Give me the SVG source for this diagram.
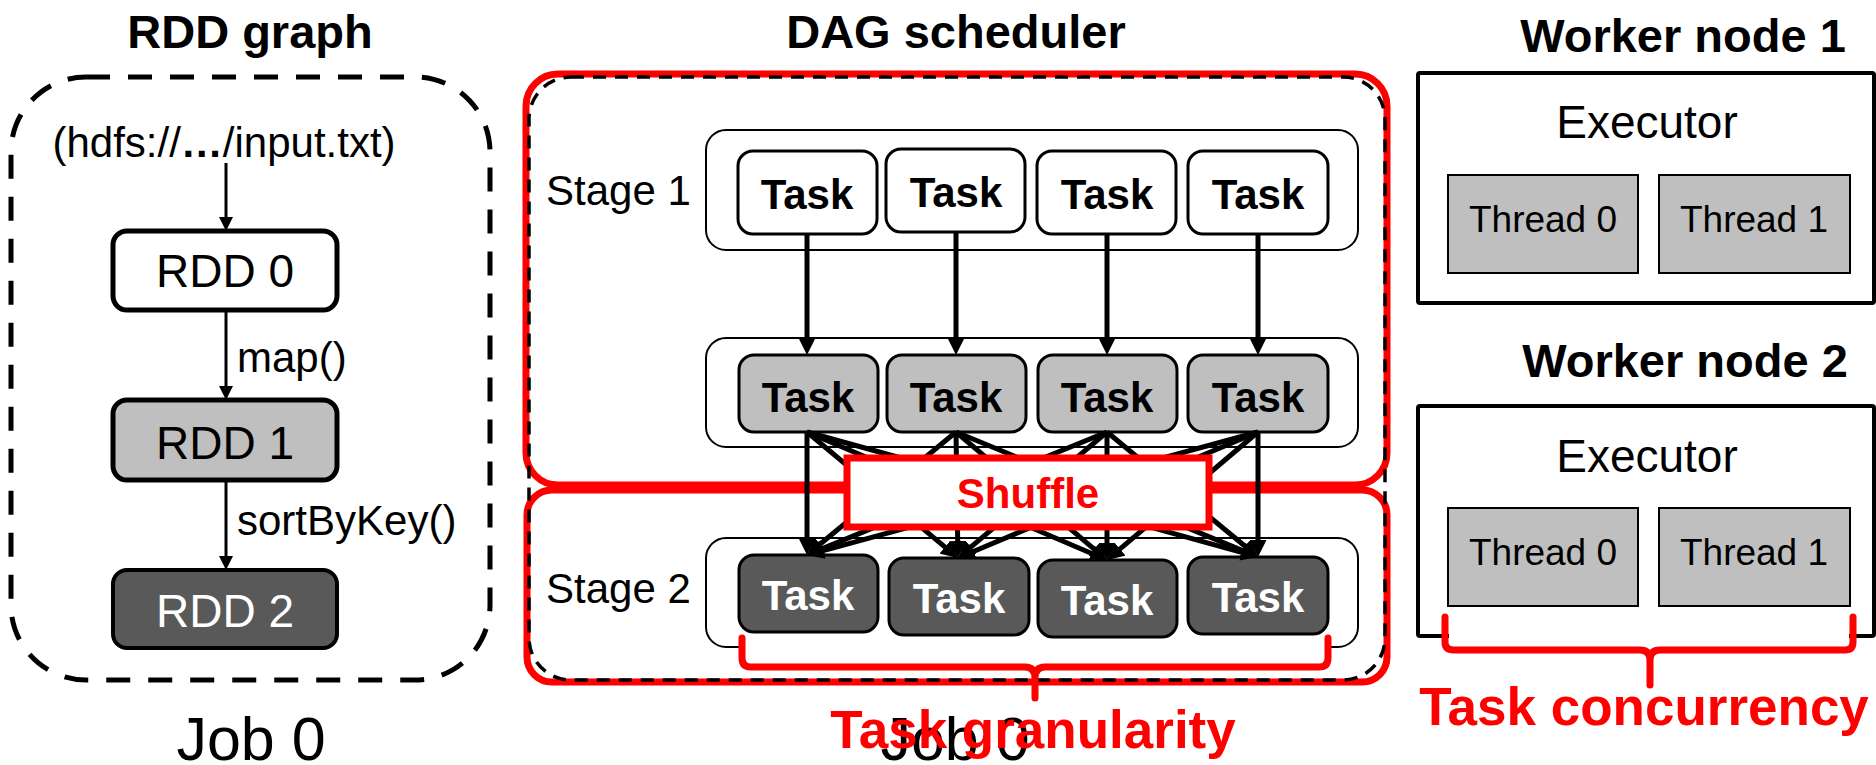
<svg xmlns="http://www.w3.org/2000/svg" width="1876" height="765" viewBox="0 0 1876 765">
  <defs>
    <style>
      text { font-family: "Liberation Sans", Arial, Helvetica, sans-serif; fill: #000; }
      .title { font-size: 47px; font-weight: bold; text-anchor: middle; }
      .lbl { font-size: 42px; }
      .rddtxt { font-size: 46px; text-anchor: middle; }
      .job { font-size: 61px; text-anchor: middle; }
      .task { font-size: 42px; font-weight: bold; text-anchor: middle; }
      .red { fill: #ff0000; font-weight: bold; text-anchor: middle; }
      .stage { fill: #fff; stroke: #000; stroke-width: 2; }
      .t-white { fill: #fff; stroke: #000; stroke-width: 3; }
      .t-gray { fill: #bfbfbf; stroke: #000; stroke-width: 3; }
      .t-dark { fill: #595959; stroke: #000; stroke-width: 3; }
      .worker { fill: #fff; stroke: #000; stroke-width: 4; }
      .thread { fill: #bfbfbf; stroke: #000; stroke-width: 2; }
      .thtxt { font-size: 37px; text-anchor: middle; }
      .exec { font-size: 46px; text-anchor: middle; }
      .edge-s { stroke: #000; stroke-width: 3; fill: none; marker-end: url(#ah-s); }
      .edge-l { stroke: #000; stroke-width: 5; fill: none; marker-end: url(#ah-l); }
      .brace { stroke: #ff0000; stroke-width: 7; fill: none; stroke-linecap: round; stroke-linejoin: round; }
    </style>
    <marker id="ah-s" viewBox="0 0 14 14" refX="1" refY="7" markerWidth="14" markerHeight="14" markerUnits="userSpaceOnUse" orient="auto">
      <path d="M0,0 L14,7 L0,14 z" fill="#000"/>
    </marker>
    <marker id="ah-l" viewBox="0 0 17 17" refX="1" refY="8.5" markerWidth="17" markerHeight="17" markerUnits="userSpaceOnUse" orient="auto">
      <path d="M0,0 L17,8.5 L0,17 z" fill="#000"/>
    </marker>
  </defs>

  <rect width="1876" height="765" fill="#fff"/>

  <!-- ===== RDD graph ===== -->
  <g id="rdd-graph">
    <text class="title" x="250" y="48">RDD graph</text>
    <rect x="11" y="77" width="479" height="603" rx="75" fill="none" stroke="#000" stroke-width="5" stroke-dasharray="24 18"/>
    <text class="lbl" x="224" y="157" text-anchor="middle">(hdfs://<tspan font-weight="bold">…</tspan>/input.txt)</text>
    <text class="job" x="251" y="760">Job 0</text>
  </g>

  <g id="rdd0">
    <rect x="113" y="231" width="224" height="79" rx="14" fill="#fff" stroke="#000" stroke-width="5"/>
    <text class="rddtxt" x="225" y="287">RDD 0</text>
  </g>
  <g id="rdd1">
    <rect x="113" y="400" width="224" height="80" rx="14" fill="#bfbfbf" stroke="#000" stroke-width="5"/>
    <text class="rddtxt" x="225" y="459">RDD 1</text>
  </g>
  <g id="rdd2">
    <rect x="113" y="570" width="224" height="78" rx="14" fill="#595959" stroke="#000" stroke-width="4"/>
    <text class="rddtxt" x="225" y="627" style="fill:#fff">RDD 2</text>
  </g>

  <g id="rdd-edges">
    <path class="edge-s" d="M226,163 V218"/>
    <path class="edge-s" d="M226,310 V387"/>
    <text class="lbl" x="237" y="372">map()</text>
    <path class="edge-s" d="M226,480 V557"/>
    <text class="lbl" x="237" y="535">sortByKey()</text>
  </g>

  <!-- ===== DAG scheduler ===== -->
  <g id="dag-scheduler">
    <text class="title" x="956" y="48">DAG scheduler</text>
    <!-- stage regions (red) and job outline (dashed) -->
    <rect x="526" y="74" width="861" height="411" rx="32" fill="none" stroke="#ff0000" stroke-width="7"/>
    <rect x="527" y="490" width="860" height="192" rx="25" fill="none" stroke="#ff0000" stroke-width="7"/>
    <rect x="529" y="77" width="856" height="603" rx="42" fill="none" stroke="#000" stroke-width="3.5" stroke-dasharray="13 9"/>
    <text class="lbl" x="546" y="205">Stage 1</text>
    <text class="lbl" x="546" y="603">Stage 2</text>
  </g>

  <g id="stage1-map">
    <rect class="stage" x="706" y="130" width="652" height="120" rx="20"/>
  </g>
  <g id="stage1-write">
    <rect class="stage" x="706" y="338" width="652" height="109" rx="20"/>
  </g>
  <g id="stage2-read">
    <rect class="stage" x="706" y="538" width="652" height="109" rx="20"/>
  </g>

  <g id="s1-task-a"><rect class="t-white" x="738" y="151" width="139" height="83" rx="15"/><text class="task" x="807" y="209">Task</text></g>
  <g id="s1-task-b"><rect class="t-white" x="886" y="149" width="139" height="83" rx="15"/><text class="task" x="956" y="207">Task</text></g>
  <g id="s1-task-c"><rect class="t-white" x="1037" y="151" width="139" height="83" rx="15"/><text class="task" x="1107" y="209">Task</text></g>
  <g id="s1-task-d"><rect class="t-white" x="1188" y="151" width="140" height="83" rx="15"/><text class="task" x="1258" y="209">Task</text></g>

  <g id="s1-out-a"><rect class="t-gray" x="739" y="355" width="139" height="77" rx="15"/><text class="task" x="808" y="412">Task</text></g>
  <g id="s1-out-b"><rect class="t-gray" x="887" y="355" width="139" height="77" rx="15"/><text class="task" x="956" y="412">Task</text></g>
  <g id="s1-out-c"><rect class="t-gray" x="1038" y="355" width="139" height="77" rx="15"/><text class="task" x="1107" y="412">Task</text></g>
  <g id="s1-out-d"><rect class="t-gray" x="1188" y="355" width="140" height="77" rx="15"/><text class="task" x="1258" y="412">Task</text></g>

  <g id="s2-task-a"><rect class="t-dark" x="739" y="555" width="139" height="77" rx="15"/><text class="task" x="808" y="610" style="fill:#fff">Task</text></g>
  <g id="s2-task-b"><rect class="t-dark" x="889" y="558" width="140" height="77" rx="15"/><text class="task" x="959" y="613" style="fill:#fff">Task</text></g>
  <g id="s2-task-c"><rect class="t-dark" x="1038" y="560" width="139" height="77" rx="15"/><text class="task" x="1107" y="615" style="fill:#fff">Task</text></g>
  <g id="s2-task-d"><rect class="t-dark" x="1188" y="557" width="140" height="77" rx="15"/><text class="task" x="1258" y="612" style="fill:#fff">Task</text></g>

  <g id="dag-edges">
    <!-- narrow dependencies inside stage 1 -->
    <path class="edge-l" d="M807,234 V339"/>
    <path class="edge-l" d="M956,232 V339"/>
    <path class="edge-l" d="M1107,234 V339"/>
    <path class="edge-l" d="M1258,234 V339"/>
    <!-- all-to-all shuffle dependencies -->
    <path class="edge-l" d="M807,432 L807,539"/>
    <path class="edge-l" d="M807,432 L945.7,547.7"/>
    <path class="edge-l" d="M807,432 L1092.3,553.7"/>
    <path class="edge-l" d="M807,432 L1242.6,552.7"/>
    <path class="edge-l" d="M956,432 L819.3,544.8"/>
    <path class="edge-l" d="M956,432 L957.7,542"/>
    <path class="edge-l" d="M956,432 L1094.8,549.7"/>
    <path class="edge-l" d="M956,432 L1243.2,550.9"/>
    <path class="edge-l" d="M1107,432 L821.8,548.9"/>
    <path class="edge-l" d="M1107,432 L970.2,547.7"/>
    <path class="edge-l" d="M1107,432 L1107,544"/>
    <path class="edge-l" d="M1107,432 L1245.7,546.8"/>
    <path class="edge-l" d="M1258,432 L822.4,550.8"/>
    <path class="edge-l" d="M1258,432 L972.8,551.8"/>
    <path class="edge-l" d="M1258,432 L1119.2,549.7"/>
    <path class="edge-l" d="M1258,432 L1258,541"/>
  </g>

  <g id="shuffle">
    <rect x="847" y="458" width="362" height="69" fill="#fff" stroke="#ff0000" stroke-width="7"/>
    <text class="red" x="1028" y="508" font-size="42">Shuffle</text>
  </g>

  <g id="task-granularity">
    <rect x="745" y="640" width="580" height="24" fill="#fff"/>
    <path class="brace" d="M742,638 V658 Q742,667 751,667 H1025 Q1035,667 1035,678 V698 M1035,678 Q1035,667 1045,667 H1319 Q1328,667 1328,658 V638"/>
    <text class="job" x="955" y="760">Job 0</text>
    <text class="red" x="1033" y="748" font-size="53">Task granularity</text>
  </g>

  <!-- ===== Worker nodes ===== -->
  <g id="worker1">
    <text class="title" x="1683" y="52">Worker node 1</text>
    <rect class="worker" x="1418" y="73" width="456" height="230" rx="2"/>
    <text class="exec" x="1647" y="138">Executor</text>
    <rect class="thread" x="1448" y="175" width="190" height="98"/>
    <text class="thtxt" x="1543" y="232">Thread 0</text>
    <rect class="thread" x="1659" y="175" width="191" height="98"/>
    <text class="thtxt" x="1754" y="232">Thread 1</text>
  </g>

  <g id="worker2">
    <text class="title" x="1685" y="377">Worker node 2</text>
    <rect class="worker" x="1418" y="406" width="456" height="230" rx="2"/>
    <text class="exec" x="1647" y="472">Executor</text>
    <rect class="thread" x="1448" y="508" width="190" height="98"/>
    <text class="thtxt" x="1543" y="565">Thread 0</text>
    <rect class="thread" x="1659" y="508" width="191" height="98"/>
    <text class="thtxt" x="1754" y="565">Thread 1</text>
  </g>

  <g id="task-concurrency">
    <rect x="1449" y="620" width="400" height="27" fill="#fff"/>
    <path class="brace" d="M1445,617 V642 Q1445,650 1454,650 H1640 Q1650,650 1650,660 V685 M1650,660 Q1650,650 1660,650 H1845 Q1853,650 1853,642 V617"/>
    <text class="red" x="1644" y="725" font-size="53">Task concurrency</text>
  </g>
</svg>
